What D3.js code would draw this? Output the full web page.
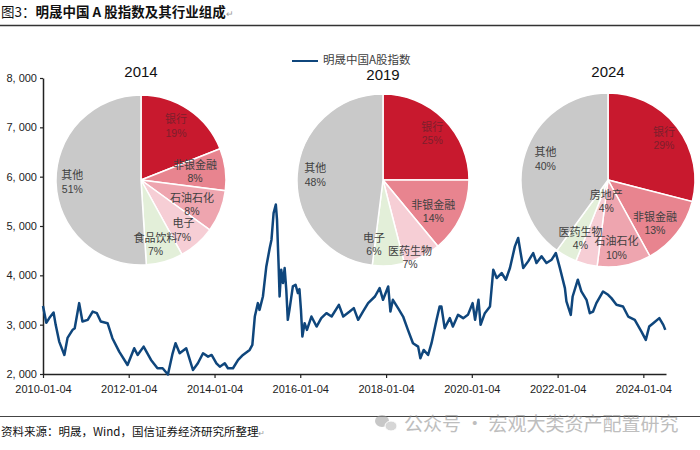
<!DOCTYPE html>
<html><head><meta charset="utf-8">
<script src="https://cdn.jsdelivr.net/npm/d3@7/dist/d3.min.js"></script>
<style>
html,body{margin:0;padding:0;background:#fff;}
svg{display:block;}
text{font-family:"Liberation Sans",Arial,"Noto Sans CJK SC",sans-serif;}
</style></head><body>
<svg id="c" width="700" height="450"></svg>
<script>
// ---------------- DATA ----------------
const chartTitle = "明晟中国 A 股指数及其行业组成";
const chartTitlePrefix = "图3：";
const sourceText = "资料来源：明晟，Wind，国信证券经济研究所整理";
const watermarkText = "公众号 · 宏观大类资产配置研究";
const seriesName = "明晟中国A股指数";

const dates = ["2010-01-04","2010-02-01","2010-02-28","2010-04-04","2010-04-22","2010-05-22","2010-07-05","2010-08-01","2010-09-13","2010-10-01","2010-11-08","2010-12-06",
"2011-01-20","2011-03-03","2011-04-08","2011-05-11","2011-07-08","2011-08-18","2011-10-15","2011-12-25",
"2012-02-20","2012-03-20","2012-05-10","2012-07-12","2012-09-05","2012-10-19","2012-12-03",
"2013-01-12","2013-02-06","2013-03-13","2013-05-08","2013-05-30","2013-07-04","2013-08-15","2013-09-28","2013-11-10","2013-12-10",
"2014-01-20","2014-02-18","2014-04-01","2014-04-28","2014-06-10","2014-07-24","2014-09-03","2014-10-30","2014-11-22","2014-12-13",
"2015-01-08","2015-01-22","2015-02-20","2015-03-21","2015-04-19","2015-05-04","2015-05-22","2015-06-10","2015-06-20","2015-07-04","2015-07-12","2015-07-26","2015-08-10","2015-08-24","2015-09-07","2015-09-20","2015-10-04","2015-11-02","2015-11-25","2015-12-15","2015-12-28",
"2016-01-10","2016-01-22","2016-02-10","2016-03-01","2016-04-08","2016-05-22","2016-07-01","2016-08-14","2016-09-27","2016-11-28",
"2017-01-04","2017-02-28","2017-04-04","2017-05-11","2017-06-21","2017-08-04","2017-10-01","2017-11-10","2017-12-09",
"2018-01-22","2018-02-10","2018-03-03","2018-04-16","2018-05-29","2018-07-09","2018-08-21","2018-10-04","2018-10-23","2018-11-20","2018-12-28",
"2019-01-26","2019-03-10","2019-04-05","2019-04-20","2019-05-18","2019-07-01","2019-07-27","2019-09-09","2019-10-23","2019-12-02",
"2020-01-11","2020-02-01","2020-03-01","2020-03-19","2020-04-24","2020-06-07","2020-07-05","2020-08-03","2020-09-14","2020-10-20","2020-11-24",
"2021-01-05","2021-02-02","2021-02-23","2021-03-17","2021-04-28","2021-06-10","2021-07-08","2021-08-20","2021-10-01","2021-11-14","2021-12-20",
"2022-01-23","2022-03-07","2022-03-20","2022-04-26","2022-05-12","2022-06-25","2022-07-25","2022-09-07","2022-10-05","2022-11-02","2022-11-30",
"2023-01-26","2023-03-10","2023-04-07","2023-05-20","2023-07-15","2023-08-28","2023-10-23","2023-12-19",
"2024-01-25","2024-02-23","2024-03-28","2024-05-19","2024-06-22","2024-07-09"];
const values = [3380,3037,3138,3246,2996,2657,2386,2732,2894,2929,3437,3063,
3098,3266,3233,3063,3030,2725,2453,2183,
2522,2386,2555,2285,2116,2116,1990,
2420,2624,2420,2522,2352,2081,2217,2420,2352,2386,
2217,2148,2217,2116,2116,2285,2386,2488,2589,3165,
3437,3300,3571,4180,4553,4722,5264,5435,5130,4180,3571,4114,3843,4148,3707,3098,3300,3775,3809,3640,3720,
3300,2760,3030,2894,3165,2962,3132,3233,3165,3402,
3165,3266,3335,3098,3266,3437,3571,3741,3504,
3775,3266,3504,3335,3165,2894,2624,2555,2319,2488,2386,
2624,3098,3368,3368,2929,3132,2962,3199,3132,3199,
3437,3098,3504,2996,3233,3368,4114,3945,4047,3911,4148,
4587,4756,4452,4148,4283,4452,4250,4385,4250,4317,4452,
4150,3740,3470,3199,3571,3911,3673,3504,3233,3266,3437,
3673,3606,3538,3402,3368,3165,3098,2860,
2691,2962,3030,3132,2996,2894];

const yTicks = [2000,3000,4000,5000,6000,7000,8000];
const xTickLabels = ["2010-01-04","2012-01-04","2014-01-04","2016-01-04","2018-01-04","2020-01-04","2022-01-04","2024-01-04"];

const pieYears = ["2014","2019","2024"];
const pie2014Names = ["银行","非银金融","石油石化","电子","食品饮料","其他"];
const pie2014Shares = [19,8,8,7,7,51];
const pie2019Names = ["银行","非银金融","医药生物","电子","其他"];
const pie2019Shares = [25,14,7,6,48];
const pie2024Names = ["银行","非银金融","石油石化","医药生物","房地产","其他"];
const pie2024Shares = [29,13,10,4,4,40];

// ---------------- STYLE / LAYOUT ----------------
const W = 700, H = 450;
const plot = {left:43, right:666, top:78, bottom:374};
const lineColor = "#0f467c";
const C = {red:"#C8192E", pink:"#E8848F", light:"#EEA5AF", pale:"#F6CED5", green:"#E3EFD9", grey:"#C9C9C9"};
const pieStyles = [
  {cx:141, cy:180, r:85, titleDy:-108, colors:[C.red,C.pink,C.light,C.pale,C.green,C.grey],
   nudges:[[0.6,-3.5],[-6.7,-0.8],[-6,2],[2,4],[-2.6,6],[-7.5,0]]},
  {cx:383, cy:180, r:86, titleDy:-105, colors:[C.red,C.pink,C.pale,C.green,C.grey],
   nudges:[[5.5,-3],[-5.7,5],[-1,22],[-13,2.4],[-6,-1]]},
  {cx:608, cy:180, r:87, titleDy:-108, colors:[C.red,C.pink,C.light,C.pale,C.green,C.grey],
   nudges:[[6.4,-3.4],[-2.6,5],[-3.3,6.4],[-12,-2.3],[28.5,-33.3],[-3,-1.7]]}
];
const pieData = [
  {year:pieYears[0], names:pie2014Names, shares:pie2014Shares},
  {year:pieYears[1], names:pie2019Names, shares:pie2019Shares},
  {year:pieYears[2], names:pie2024Names, shares:pie2024Shares}
];
const CJK = '"Noto Sans CJK SC","Liberation Sans",sans-serif';
const LAT = '"Liberation Sans",Arial,sans-serif';

const svg = d3.select("#c");
svg.append("rect").attr("width",W).attr("height",H).attr("fill","#fff");

// Title
const tt = svg.append("text").attr("x",1).attr("y",17).attr("font-size",13.5).attr("fill","#111").style("font-family",CJK);
tt.append("tspan").text(chartTitlePrefix);
tt.append("tspan").attr("font-weight","bold").text(chartTitle);
tt.append("tspan").attr("fill","#999").attr("font-size",9).text("↵");
svg.append("line").attr("x1",0).attr("x2",W).attr("y1",25.5).attr("y2",25.5).attr("stroke","#333").attr("stroke-width",1.6);

// Scales
const parse = d3.timeParse("%Y-%m-%d");
const series = dates.map((d,i)=>({date:parse(d), value:values[i]}));
const x = d3.scaleTime().domain([parse("2010-01-04"), parse("2024-07-15")]).range([plot.left, plot.right]);
const y = d3.scaleLinear().domain([2000,8000]).range([plot.bottom, plot.top]);

// Axes
const xAxis = d3.axisBottom(x).tickValues(xTickLabels.map(parse)).tickFormat(d3.timeFormat("%Y-%m-%d")).tickSize(4).tickSizeOuter(0);
const gx = svg.append("g").attr("transform",`translate(0,${plot.bottom})`).call(xAxis);
gx.select(".domain").attr("stroke","#222").attr("stroke-width",1.3);
gx.selectAll(".tick line").attr("stroke","#222").attr("stroke-width",1.2);
gx.selectAll("text").attr("font-size",11).attr("fill","#222").attr("dy","1.05em").style("font-family",LAT);

const yAxis = d3.axisLeft(y).tickValues(yTicks).tickFormat(d=>d3.format(",")(d).replace(",",", ")).tickSize(3).tickSizeOuter(0);
const gy = svg.append("g").attr("transform",`translate(${plot.left},0)`).call(yAxis);
gy.select(".domain").attr("stroke","#222").attr("stroke-width",1.5);
gy.selectAll(".tick line").attr("stroke","#222").attr("stroke-width",1.2);
gy.selectAll("text").attr("font-size",11).attr("fill","#222").attr("x",-6).style("font-family",LAT);

// Line
svg.append("path").datum(series)
  .attr("d", d3.line().x(d=>x(d.date)).y(d=>y(d.value)))
  .attr("fill","none").attr("stroke",lineColor).attr("stroke-width",2.5).attr("stroke-linejoin","round");

// Legend
svg.append("line").attr("x1",292).attr("x2",318).attr("y1",61).attr("y2",61).attr("stroke",lineColor).attr("stroke-width",2);
svg.append("text").attr("x",323).attr("y",60).attr("dy","0.35em").attr("font-size",11.5).attr("fill","#404040").style("font-family",CJK).text(seriesName);

// Pies
const pie = d3.pie().sort(null).value(d=>d.share);
pieData.forEach((p,pi)=>{
  const st = pieStyles[pi];
  const rows = p.names.map((n,i)=>({name:n, share:p.shares[i], color:st.colors[i], nudge:st.nudges[i]}));
  const arcs = pie(rows);
  const g = svg.append("g").attr("transform",`translate(${st.cx},${st.cy})`);
  const arc = d3.arc().innerRadius(0).outerRadius(st.r);
  const lab = d3.arc().innerRadius(st.r*0.72).outerRadius(st.r*0.72);
  g.selectAll("path").data(arcs).join("path")
    .attr("d",arc).attr("fill",d=>d.data.color).attr("stroke","#fff").attr("stroke-width",1.5);
  g.append("text").attr("x",0).attr("y",st.titleDy).attr("dy","0.35em").attr("text-anchor","middle")
    .attr("font-size",15).attr("fill","#111").style("font-family",LAT).text(p.year);
  arcs.forEach(a=>{
    const [cx,cy] = lab.centroid(a);
    const px = cx + a.data.nudge[0], py = cy + a.data.nudge[1];
    const col = a.index===0 ? "#7d1f2c" : "#404040";
    const t = g.append("text").attr("text-anchor","middle").attr("fill",col).attr("font-size",11);
    t.append("tspan").attr("x",px).attr("y",py-6.5).attr("dy","0.35em").style("font-family",CJK).text(a.data.name);
    t.append("tspan").attr("x",px).attr("y",py+7).attr("dy","0.35em").attr("font-size",10.5).style("font-family",LAT).text(a.data.share+"%");
  });
});

// Footer
svg.append("line").attr("x1",0).attr("x2",W).attr("y1",416.5).attr("y2",416.5).attr("stroke","#444").attr("stroke-width",1.2);
const wm = svg.append("g").attr("opacity",0.55);
wm.append("ellipse").attr("cx",382).attr("cy",421).attr("rx",7).attr("ry",6).attr("fill","#9a9a9a");
wm.append("ellipse").attr("cx",391).attr("cy",426).attr("rx",6).attr("ry",5).attr("fill","#b5b5b5").attr("stroke","#fff").attr("stroke-width",1);
wm.append("text").attr("x",404).attr("y",424).attr("dy","0.35em").attr("font-size",19).attr("fill","#8a8a8a").style("font-family",CJK).text(watermarkText);
const st2 = svg.append("text").attr("x",1).attr("y",432).attr("dy","0.35em").attr("font-size",11.5).attr("fill","#111").style("font-family",CJK);
st2.append("tspan").text(sourceText);
st2.append("tspan").attr("fill","#999").attr("font-size",8).text("↵");
</script>
</body></html>
